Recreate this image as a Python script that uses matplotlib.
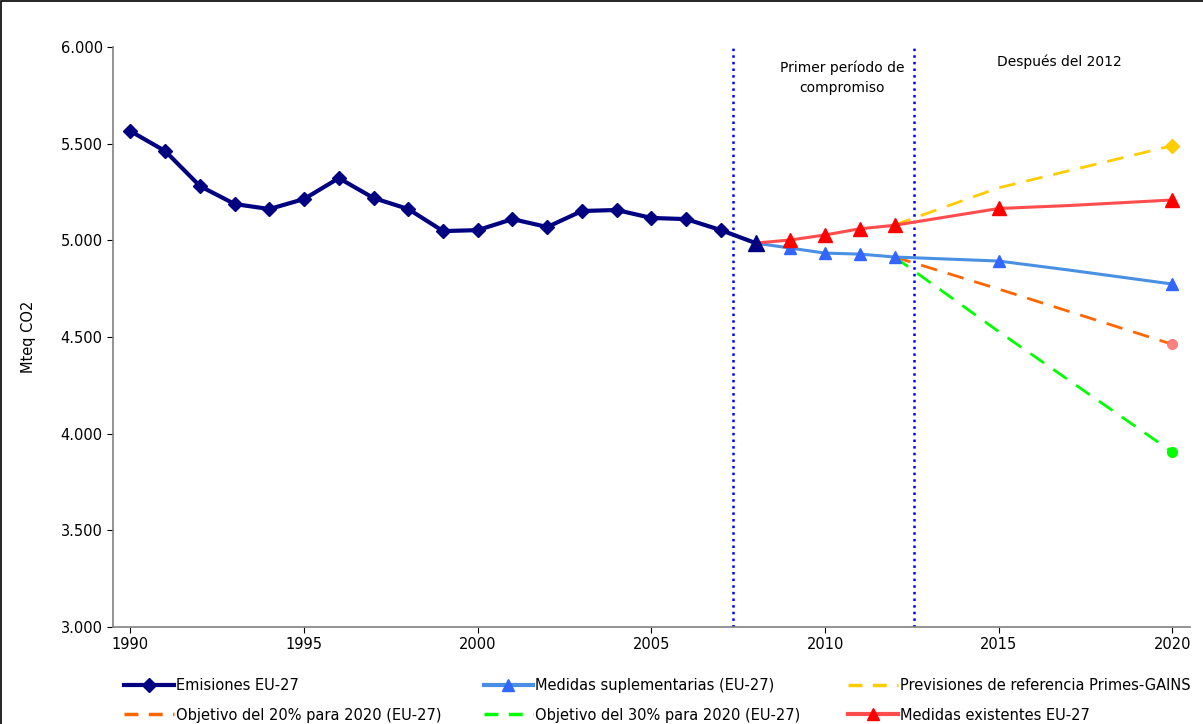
import numpy as np
import matplotlib
matplotlib.use("Agg")
import matplotlib.pyplot as plt
from matplotlib.lines import Line2D
from matplotlib.patches import Rectangle

# datos (Mteq CO2)
anios_hist = [1990, 1991, 1992, 1993, 1994, 1995, 1996, 1997, 1998, 1999,
              2000, 2001, 2002, 2003, 2004, 2005, 2006, 2007, 2008]
emisiones = [5565, 5462, 5281, 5188, 5162, 5214, 5322, 5219, 5162, 5048,
             5053, 5110, 5069, 5152, 5157, 5116, 5110, 5053, 4986]

anios_proy = [2008, 2009, 2010, 2011, 2012, 2015, 2017, 2020]
med_existentes = [4986, 5002, 5028, 5060, 5078, 5165, 5180, 5209]
med_suplement = [4986, 4960, 4934, 4929, 4914, 4893, 4847, 4774]
marcas_proy = [1, 2, 3, 4, 5, 7]

anios_obj = [2012, 2015, 2020]
previsiones = [5080, 5272, 5490]
objetivo20 = [4914, 4748, 4462]
objetivo30 = [4914, 4528, 3905]

periodo = [2007.35, 2012.55]
textos = ["Primer período de\ncompromiso", "Después del 2012"]
etiquetas_y = ["3.000", "3.500", "4.000", "4.500", "5.000", "5.500", "6.000"]


def main():
    plt.rcParams['font.family'] = ['DejaVu Sans']
    fig = plt.figure(figsize=(12.03, 7.24), dpi=100)
    ax = fig.add_axes([0.094, 0.134, 0.895, 0.801])

    ax.axvline(periodo[0], color='#0000ff', ls=':', lw=1.8, zorder=1)
    ax.axvline(periodo[1], color='#0000ff', ls=':', lw=1.8, zorder=1)

    ax.plot(anios_obj, previsiones, color='#ffcc00', ls=(0, (6, 4)), lw=2, zorder=2)
    ax.plot(anios_obj[-1], previsiones[-1], marker='D', color='#ffcc00', ms=7, zorder=3)
    ax.plot(anios_obj, objetivo20, color='#ff6600', ls=(0, (6, 4)), lw=2, zorder=2)
    ax.plot(anios_obj[-1], objetivo20[-1], marker='o', color='#ff8080', ms=7, zorder=3)
    ax.plot(anios_obj, objetivo30, color='#00ff00', ls=(0, (6, 4)), lw=2, zorder=2)
    ax.plot(anios_obj[-1], objetivo30[-1], marker='o', color='#00ff00', ms=7, zorder=3)

    ax.plot(anios_proy, med_suplement, color='#4a90e2', lw=2.2, marker='^', ms=9,
            mfc='#3366ff', mec='#3366ff', markevery=marcas_proy, zorder=3)
    ax.plot(anios_proy, med_existentes, color='#ff4d4d', lw=2.2, marker='^', ms=10,
            mfc='#ff0000', mec='#ff0000', markevery=marcas_proy, zorder=4)

    ax.plot(anios_hist, emisiones, color='#000080', lw=3, marker='D', ms=7.5,
            markevery=list(range(len(anios_hist) - 1)), zorder=5)
    ax.plot(anios_hist[-1], emisiones[-1], marker='^', color='#000080', ms=11, zorder=6)

    ax.text(2010.5, 5930, textos[0], ha='center', va='top', fontsize=10, linespacing=1.5)
    ax.text(2016.75, 5960, textos[1], ha='center', va='top', fontsize=10)

    ax.set_xlim(1989.5, 2020.5)
    ax.set_ylim(3000, 6000)
    ax.set_xticks(range(1990, 2021, 5))
    ax.set_yticks(range(3000, 6001, 500))
    ax.set_yticklabels(etiquetas_y)
    ax.tick_params(labelsize=10.5, colors='black', length=4)
    ax.set_ylabel("Mteq CO2", fontsize=10.5, labelpad=18)
    for s in ['top', 'right']:
        ax.spines[s].set_visible(False)
    for s in ['left', 'bottom']:
        ax.spines[s].set_color('#808080')
        ax.spines[s].set_linewidth(1.2)

    columnas = [
        ([Line2D([], [], color='#000080', lw=3, marker='D', ms=7),
          Line2D([], [], color='#ff6600', lw=2.5, ls=(0, (4, 3)))],
         ["Emisiones EU-27", "Objetivo del 20% para 2020 (EU-27)"], 0.097),
        ([Line2D([], [], color='#4a90e2', lw=3, marker='^', mfc='#3366ff', mec='#3366ff', ms=8),
          Line2D([], [], color='#00ff00', lw=2.5, ls=(0, (4, 3)))],
         ["Medidas suplementarias (EU-27)", "Objetivo del 30% para 2020 (EU-27)"], 0.396),
        ([Line2D([], [], color='#ffcc00', lw=2.5, ls=(0, (4, 3))),
          Line2D([], [], color='#ff4d4d', lw=3, marker='^', mfc='#ff0000', mec='#ff0000', ms=8)],
         ["Previsiones de referencia Primes-GAINS", "Medidas existentes EU-27"], 0.699),
    ]
    for hs, ls, x0 in columnas:
        fig.legend(hs, ls, ncol=1, loc='lower left', bbox_to_anchor=(x0, -0.008),
                   frameon=False, fontsize=10.5, handlelength=3.4, handletextpad=0.15,
                   labelspacing=1.0, borderpad=0.3, borderaxespad=0.2)

    fig.add_artist(Rectangle((0.0008, -0.01), 1.1, 1.0085, transform=fig.transFigure,
                             fill=False, ec='black', lw=1.2))
    fig.savefig("out.png", dpi=100)


main()
